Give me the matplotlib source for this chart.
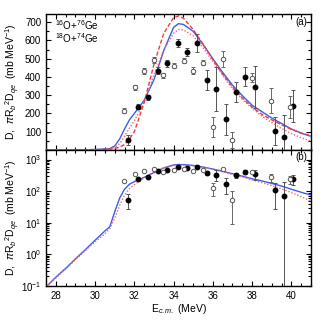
import numpy as np
import matplotlib
matplotlib.use('Agg')
import matplotlib.pyplot as plt
from matplotlib.ticker import MultipleLocator, LogLocator, NullFormatter

plt.rcParams['font.family'] = ['Liberation Sans', 'DejaVu Sans']
plt.rcParams['mathtext.fontset'] = 'custom'
plt.rcParams['mathtext.rm'] = 'Liberation Sans'
plt.rcParams['mathtext.it'] = 'Liberation Sans:italic'

# 16O+76Ge (filled) data
e_16 = [31.66, 32.2, 32.68, 33.19, 33.68, 34.2, 34.66, 35.17, 35.68, 36.15,
        36.67, 37.17, 37.66, 38.17, 39.15, 39.6, 40.08]
d_16 = [54, 237, 288, 434, 475, 588, 535, 585, 383, 332,
        168, 319, 402, 347, 105, 72, 241]
err_16 = [27, 15, 15, 18, 20, 22, 22, 50, 55, 120,
          85, 55, 52, 115, 78, 120, 87]

# 18O+74Ge (open) data
e_18 = [31.49, 32.03, 32.49, 33.0, 33.47, 34.02, 34.52, 34.97, 35.5, 36.01,
        36.52, 37.0, 38.01, 38.98, 39.95]
d_18 = [215, 343, 433, 493, 409, 462, 489, 435, 478, 127,
        499, 54, 396, 270, 234]
err_18 = [15, 15, 15, 15, 15, 15, 15, 18, 15, 55,
          45, 45, 25, 70, 60]

# calculated curves
e_calc = [27.5, 28.0, 28.5, 29.0, 29.5, 30.0, 30.5, 30.75, 31.0, 31.25, 31.5,
          31.75, 32.0, 32.5, 33.0, 33.5, 34.0, 34.25, 34.5, 35.0, 35.5, 36.0,
          36.5, 37.0, 37.5, 38.0, 38.5, 39.0, 39.5, 40.0, 40.5, 41.0]
blue_solid = [0.093, 0.19, 0.36, 0.72, 1.4, 2.8, 5.5, 7.5, 22, 60, 115,
              165, 200, 272, 385, 545, 672, 692, 688, 650, 578, 500,
              425, 355, 298, 245, 210, 175, 145, 115, 92, 75]
red_dash = [0.05, 0.1, 0.2, 0.4, 0.8, 1.5, 3, 5, 8, 16, 30,
            60, 100, 260, 470, 640, 725, 735, 722, 660, 580, 495,
            415, 345, 285, 235, 195, 165, 138, 113, 93, 78]
red_dot = [0.09, 0.18, 0.34, 0.68, 1.3, 2.5, 4.5, 6.5, 14, 35, 75,
           120, 160, 262, 410, 548, 640, 660, 658, 625, 560, 485,
           410, 335, 278, 228, 185, 150, 118, 90, 67, 48]

fig = plt.figure(figsize=(3.27, 3.22), dpi=100)
ax1 = fig.add_axes([0.1407, 0.5342, 0.8104, 0.4223])
ax2 = fig.add_axes([0.1407, 0.1118, 0.8104, 0.4224])

for ax in (ax1, ax2):
    ax.plot(e_calc, blue_solid, color='#3a5cf0', lw=1.0, zorder=3)
    ax.plot(e_calc, red_dot, color='#f06a6a', lw=1.0, ls=(0, (1, 1.3)), zorder=3)
    ax.errorbar(e_16, d_16, yerr=err_16, fmt='o', color='black', ms=3.2,
                ecolor='#555555', elinewidth=0.7, capsize=1.5, capthick=0.7, zorder=4)
    ax.errorbar(e_18, d_18, yerr=err_18, fmt='o', mfc='white', mec='#555555', ms=3.2,
                mew=0.7, ecolor='#666666', elinewidth=0.7, capsize=1.5, capthick=0.7, zorder=4)
    ax.set_xlim(27.5, 41)
    ax.xaxis.set_major_locator(MultipleLocator(2))
    ax.xaxis.set_minor_locator(MultipleLocator(0.5))
    ax.tick_params(which='both', direction='in', top=True, right=True, labelsize=7, width=0.8)
    ax.tick_params(which='major', length=3.5)
    ax.tick_params(which='minor', length=2)
    for s in ax.spines.values():
        s.set_linewidth(1.0)
    ax.set_ylabel(r'D,  $\pi$R$_b$$^2$D$_{qe}$  (mb MeV$^{-1}$)', fontsize=7.5, labelpad=3)

ax1.plot(e_calc, red_dash, color='#f03a3a', lw=1.0, ls=(0, (3, 1.5)), zorder=3)
ax1.set_ylim(0, 745)
ax1.yaxis.set_major_locator(MultipleLocator(100))
ax1.yaxis.set_minor_locator(MultipleLocator(50))
ax1.set_yticks([100, 200, 300, 400, 500, 600, 700])
ax1.tick_params(labelbottom=False)
ax1.text(0.034, 0.92, r'$^{16}$O+$^{76}$Ge', transform=ax1.transAxes, fontsize=7, va='center')
ax1.text(0.034, 0.82, r'$^{18}$O+$^{74}$Ge', transform=ax1.transAxes, fontsize=7, va='center')
ax1.text(0.985, 0.94, '(a)', transform=ax1.transAxes, fontsize=7, ha='right', va='center')

ax2.set_yscale('log')
ax2.set_ylim(0.1, 2000)
ax2.yaxis.set_major_locator(LogLocator(base=10, numticks=10))
ax2.yaxis.set_minor_locator(LogLocator(base=10, subs=np.arange(2, 10), numticks=20))
ax2.yaxis.set_minor_formatter(NullFormatter())
ax2.text(0.985, 0.95, '(b)', transform=ax2.transAxes, fontsize=7, ha='right', va='center')
ax2.set_xlabel(r'E$_{c.m.}$ (MeV)', fontsize=7.5, labelpad=1)

ax1.yaxis.set_label_coords(-0.09, 0.5)
ax2.yaxis.set_label_coords(-0.09, 0.5)

fig.savefig('out.png', dpi=100)
